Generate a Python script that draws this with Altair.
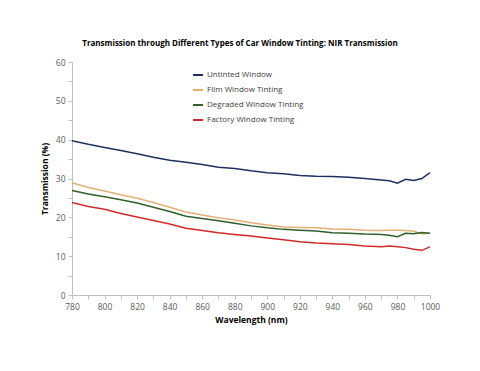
import altair as alt
import pandas as pd

wavelength = [780, 790, 800, 810, 820, 830, 840, 850, 860, 870, 880, 890, 900,
              910, 920, 930, 940, 950, 960, 970, 975, 980, 985, 990, 995, 1000]
untinted = [39.7, 38.8, 38.0, 37.2, 36.4, 35.5, 34.7, 34.2, 33.6, 32.9, 32.6, 32.0, 31.5,
            31.2, 30.8, 30.6, 30.5, 30.3, 30.0, 29.6, 29.4, 28.8, 29.8, 29.5, 30.0, 31.5]
film = [28.9, 27.7, 26.8, 25.8, 24.9, 23.8, 22.6, 21.4, 20.6, 19.9, 19.3, 18.6, 18.0,
        17.5, 17.4, 17.3, 17.0, 16.9, 16.7, 16.6, 16.7, 16.7, 16.6, 16.4, 15.7, 15.9]
degraded = [26.9, 26.0, 25.3, 24.5, 23.7, 22.6, 21.5, 20.3, 19.7, 19.1, 18.5, 17.8, 17.3,
            16.9, 16.7, 16.5, 16.0, 15.9, 15.7, 15.6, 15.4, 15.0, 15.9, 15.8, 16.1, 15.9]
factory = [23.8, 22.8, 22.1, 21.0, 20.1, 19.2, 18.3, 17.2, 16.6, 16.0, 15.6, 15.2, 14.7,
           14.2, 13.7, 13.4, 13.2, 13.0, 12.6, 12.4, 12.6, 12.4, 12.2, 11.8, 11.5, 12.4]

series_names = ["Untinted Window", "Film Window Tinting",
                "Degraded Window Tinting", "Factory Window Tinting"]
series_colors = ["#1F2F5E", "#E3B073", "#2F5F2A", "#D02A2A"]

rows = []
for name, vals in zip(series_names, [untinted, film, degraded, factory]):
    for w, v in zip(wavelength, vals):
        rows.append({"Wavelength": w, "Transmission": v, "Series": name})
df = pd.DataFrame(rows)

font = "Open Sans"

chart = alt.Chart(df).mark_line(strokeWidth=1.5).encode(
    x=alt.X("Wavelength:Q",
            scale=alt.Scale(domain=[780, 1000], nice=False, zero=False),
            axis=alt.Axis(title="Wavelength (nm)",
                          values=list(range(780, 1001, 10)),
                          format="d",
                          labelExpr="datum.value % 20 == 0 ? datum.label : ''",
                          labelFlush=False, labelOverlap=False,
                          grid=False, tickSize=4, labelPadding=3,
                          titlePadding=5)),
    y=alt.Y("Transmission:Q",
            scale=alt.Scale(domain=[0, 60], nice=False),
            axis=alt.Axis(title="Transmission (%)",
                          values=list(range(0, 61, 5)),
                          labelExpr="datum.value % 10 == 0 ? datum.label : ''",
                          labelFlush=False, labelOverlap=False,
                          grid=False, tickSize=4, labelPadding=3,
                          titlePadding=6)),
    color=alt.Color("Series:N",
                    scale=alt.Scale(domain=series_names, range=series_colors),
                    sort=series_names,
                    legend=alt.Legend(title=None, orient="none",
                                      legendX=120, legendY=7,
                                      symbolType="stroke", symbolSize=100,
                                      symbolStrokeWidth=2, labelFontSize=8,
                                      labelColor="#404040", labelOffset=3,
                                      rowPadding=5, labelFont=font)),
    detail="Series:N",
).properties(
    width=358, height=233,
    title=alt.TitleParams("Transmission through Different Types of Car Window Tinting: NIR Transmission",
                          fontSize=8, font=font, fontWeight="bold",
                          color="#000000", offset=10, dx=-11),
    autosize=alt.AutoSizeParams(type="none"),
    padding={"left": 64, "top": 54, "right": 42, "bottom": 68},
).configure_axis(
    labelFont=font, titleFont=font, labelFontSize=8.5, titleFontSize=8.5,
    labelColor="#595959", titleColor="#000000", titleFontWeight="bold",
    domainColor="#BFBFBF", tickColor="#BFBFBF",
).configure_view(strokeWidth=0)

chart.save("out.html", embed_options={"renderer": "svg", "actions": False})
